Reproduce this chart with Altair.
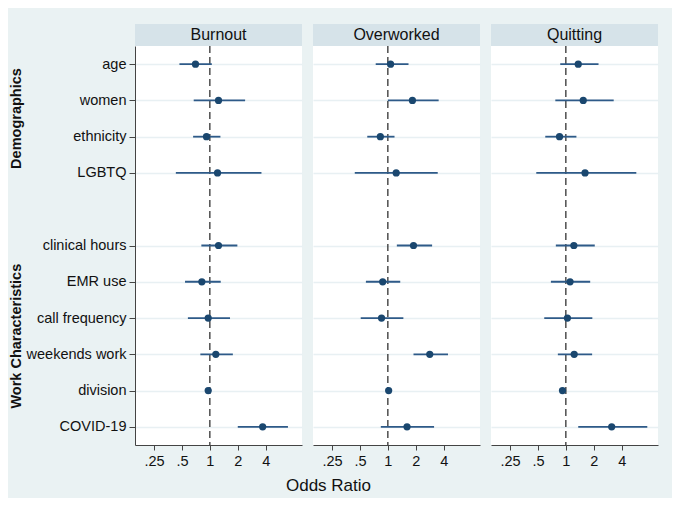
import json
import altair as alt
import pandas as pd

# ---------------- data ----------------
outcomes = ["Burnout", "Overworked", "Quitting"]
variables = ["age", "women", "ethnicity", "LGBTQ", "clinical hours", "EMR use",
             "call frequency", "weekends work", "division", "COVID-19"]
groups = ["Demographics"] * 4 + ["Work Characteristics"] * 6

burnout_or = [0.70, 1.24, 0.92, 1.21, 1.24, 0.82, 0.96, 1.16, 0.96, 3.71]
burnout_lo = [0.47, 0.67, 0.66, 0.43, 0.81, 0.54, 0.58, 0.79, 0.93, 2.00]
burnout_hi = [1.05, 2.40, 1.30, 3.60, 1.98, 1.31, 1.65, 1.77, 0.99, 6.95]

overworked_or = [1.07, 1.84, 0.83, 1.23, 1.89, 0.88, 0.855, 2.83, 1.02, 1.61]
overworked_lo = [0.74, 1.00, 0.60, 0.44, 1.25, 0.58, 0.51, 1.89, 0.99, 0.84]
overworked_hi = [1.67, 3.53, 1.18, 3.45, 3.00, 1.36, 1.47, 4.45, 1.05, 3.15]

quitting_or = [1.36, 1.54, 0.855, 1.61, 1.22, 1.11, 1.04, 1.23, 0.92, 3.12]
quitting_lo = [0.87, 0.77, 0.60, 0.48, 0.78, 0.69, 0.585, 0.82, 0.89, 1.36]
quitting_hi = [2.25, 3.28, 1.30, 5.75, 2.05, 1.83, 1.93, 1.92, 0.95, 7.55]

x_ticks = [0.25, 0.5, 1, 2, 4]
x_tick_labels = [".25", ".5", "1", "2", "4"]
reference_or = [1]
x_domain = [0.156, 9.85]

# ---------------- styling ----------------
FONT = "Liberation Sans"
BG = "#EAF2F3"
HEADER = "#D6E3E9"
GRID = "#E8F0F3"
NAVY = "#1A476F"
CI_COL = "#2E5A88"
TXT = "#111111"
W, H = 167, 399

# row slots: one empty slot between the two groups
slots = []
s, prev = 0, None
for g in groups:
    s += 1 if prev in (None, g) else 2
    prev = g
    slots.append(s)
max_slot = slots[-1]

slot_names = [""] * (max_slot + 1)
for sl, v in zip(slots, variables):
    slot_names[sl] = v
y_label_expr = json.dumps(slot_names) + "[datum.value]"

x_label_expr = ""
for v, lab in zip(x_ticks, x_tick_labels):
    x_label_expr += f"datum.value == {v} ? '{lab}' : "
x_label_expr += "''"

group_df = (pd.DataFrame({"group": groups, "slot": slots})
            .groupby("group", sort=False)["slot"].mean().reset_index())

xs = alt.Scale(type="log", base=2, domain=x_domain, nice=False)
ys = alt.Scale(domain=[0.5, max_slot + 0.5], reverse=True, nice=False, zero=False)
x_axis = alt.Axis(values=x_ticks, labelExpr=x_label_expr, title=None, grid=False,
                  tickSize=5, labelPadding=4, labelFontSize=14.5)


def panel(name, ors, los, his, first):
    df = pd.DataFrame({"variable": variables, "group": groups, "slot": slots,
                       "or": ors, "lo": los, "hi": his})
    y_axis = alt.Axis(values=slots, labelExpr=y_label_expr, title=None, grid=True,
                      gridColor=GRID, gridWidth=1.5, domain=first, ticks=first,
                      labels=first, tickSize=6, labelPadding=3, labelFontSize=14.5)
    yenc = alt.Y("slot:Q", scale=ys, axis=y_axis)
    base = alt.Chart(df)
    ref = alt.Chart(pd.DataFrame({"ref": reference_or})).mark_rule(
        color="#333333", strokeDash=[7, 4], strokeWidth=1.3
    ).encode(x=alt.X("ref:Q", scale=xs, axis=x_axis))
    ci = base.mark_rule(color=CI_COL, strokeWidth=1.8).encode(
        x=alt.X("lo:Q", scale=xs, axis=x_axis), x2="hi:Q", y=yenc)
    pts = base.mark_circle(color=NAVY, opacity=1, size=52).encode(
        x=alt.X("or:Q", scale=xs, axis=x_axis), y=yenc)
    hdf = pd.DataFrame({"outcome": [name]})
    hrect = alt.Chart(hdf).mark_rect(fill=HEADER).encode(
        x=alt.value(0), x2=alt.value(W), y=alt.value(-22), y2=alt.value(0))
    htext = alt.Chart(hdf).mark_text(font=FONT, fontSize=16, color=TXT,
                                     baseline="middle", align="center").encode(
        x=alt.value(W / 2), y=alt.value(-11), text="outcome:N")
    layers = [ref, ci, pts, hrect, htext]
    if first:
        gtext = alt.Chart(group_df).mark_text(
            font=FONT, fontSize=14.5, fontWeight="bold", color=TXT, angle=270,
            align="center", baseline="middle"
        ).encode(x=alt.value(-118), y=alt.Y("slot:Q", scale=ys, axis=y_axis),
                 text="group:N")
        layers.append(gtext)
    return alt.layer(*layers).properties(width=W, height=H)


p1 = panel(outcomes[0], burnout_or, burnout_lo, burnout_hi, True)
p2 = panel(outcomes[1], overworked_or, overworked_lo, overworked_hi, False)
p3 = panel(outcomes[2], quitting_or, quitting_lo, quitting_hi, False)

chart = alt.hconcat(p1, p2, p3, spacing=11).properties(
    title=alt.TitleParams(text="Odds Ratio", orient="bottom", anchor="middle",
                          fontSize=17, fontWeight="normal", font=FONT, color=TXT,
                          offset=10, dx=-5),
    background=BG,
    padding={"left": 0, "top": 16, "right": 14, "bottom": 4},
).configure_view(fill="white", strokeWidth=0).configure_axis(
    labelFont=FONT, labelColor=TXT, domainColor="#444444", tickColor="#444444",
    domainWidth=1, tickWidth=1
)

chart.save("out.html", embed_options={"renderer": "svg", "actions": False})
